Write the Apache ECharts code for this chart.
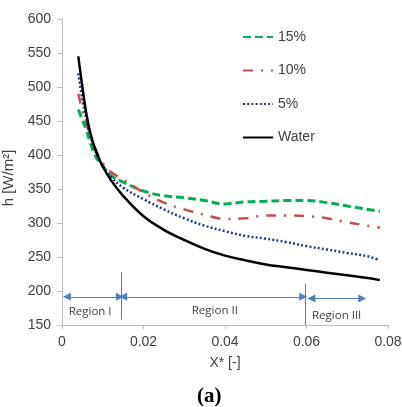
<!DOCTYPE html>
<html><head><meta charset="utf-8">
<script src="https://cdn.jsdelivr.net/npm/echarts@6/dist/echarts.min.js"></script>
<style>html,body{margin:0;padding:0;background:#fff}#c{width:402px;height:407px}</style>
</head><body><div id="c"></div>
<script>
var xValues = [0.004,0.005,0.006,0.007,0.008,0.009,0.01,0.012,0.015,0.02,0.025,0.03,0.035,0.04,0.045,0.05,0.055,0.06,0.065,0.07,0.075,0.078];
var h15 = [467,452,436,417,401,391,384,370,360,347,340,337,333,328,331,332,333,333,330,325,320,317];
var h10 = [490,465,445,428,412,398,388,375,364,345,330,320,312,306,307,311,311,310,307,301,296,293];
var h5  = [520,482,452,427,409,395,384,368,352,335,320,307,296,288,281,277,272,266,261,256,251,245];
var hWater = [545,500,460,431,411,396,383,363,340,310,290,275,262,252,245,239,235,231,227,223,219,216];
var seriesNames = ['15%','10%','5%','Water'];
var yTicks = {min:150,max:600,step:50};
var xTicks = {min:0,max:0.08,step:0.02};
var regionLabels = ['Region I','Region II','Region III'];
var regionBounds = [0.0145, 0.0597];

function pairs(ys){ return xValues.map(function(x,i){ return [x, ys[i]]; }); }

var chart = echarts.init(document.getElementById('c'), null, {renderer:'canvas'});
var annColor = '#4f81bd';
var txt = '#404040';
var option = {
  animation:false,
  title:{text:'(a)', left:192, top:381, textStyle:{fontFamily:'Liberation Serif', fontWeight:'bold', fontSize:21, color:'#000'}},
  grid:{left:62, right:14, top:19, bottom:82, containLabel:false, outerBoundsMode:'none'},
  legend:{
    data:seriesNames,
    orient:'vertical', left:242, top:30, padding:0, itemWidth:30, itemHeight:14, itemGap:19.5,
    itemStyle:{opacity:0, borderWidth:0},
    textStyle:{fontFamily:'Liberation Sans', fontSize:14, color:txt}
  },
  xAxis:{
    type:'value', min:xTicks.min, max:xTicks.max, interval:xTicks.step,
    name:'X* [-]', nameLocation:'middle', nameGap:31,
    nameTextStyle:{fontFamily:'Liberation Sans', fontSize:14, color:txt},
    axisLine:{lineStyle:{color:'#bfbfbf'}}, axisTick:{show:true, length:4, lineStyle:{color:'#bfbfbf'}},
    splitLine:{show:false},
    axisLabel:{fontFamily:'Liberation Sans', fontSize:14, color:txt, margin:10,
      formatter:function(v){ return v===0?'0':v.toFixed(2); }}
  },
  yAxis:{
    type:'value', min:yTicks.min, max:yTicks.max, interval:yTicks.step,
    name:'h [W/m²]', nameLocation:'middle', nameGap:37,
    nameTextStyle:{fontFamily:'Liberation Sans', fontSize:15, color:txt, padding:[0,12,0,0]},
    axisLine:{show:true, lineStyle:{color:'#bfbfbf'}}, axisTick:{show:true, length:5, lineStyle:{color:'#bfbfbf'}},
    splitLine:{show:false},
    axisLabel:{fontFamily:'Liberation Sans', fontSize:14, color:txt, margin:11}
  },
  series:[
    {name:'15%', type:'line', smooth:0.4, showSymbol:false, symbol:'none', data:pairs(h15), z:3,
      lineStyle:{color:'#00b050', width:3, type:[8,4]}, itemStyle:{color:'#00b050'}},
    {name:'10%', type:'line', smooth:0.4, showSymbol:false, symbol:'none', data:pairs(h10), z:3,
      lineStyle:{color:'#c0504d', width:2.5, type:[10,8,2,8]}, itemStyle:{color:'#c0504d'}},
    {name:'5%', type:'line', smooth:0.4, showSymbol:false, symbol:'none', data:pairs(h5), z:3,
      lineStyle:{color:'#1f3c88', width:2.5, type:[2,2.2]}, itemStyle:{color:'#1f3c88'}},
    {name:'Water', type:'line', smooth:0.4, showSymbol:false, symbol:'none', data:pairs(hWater), z:4,
      lineStyle:{color:'#000', width:2.5, type:'solid'}, itemStyle:{color:'#000'}},
    {name:'regions', type:'line', data:[], silent:true,
      markLine:{
        silent:true, animation:false,
        lineStyle:{color:annColor, width:1, type:'solid'},
        label:{show:false},
        symbolSize:[8,8],
        data:[
          [{coord:[regionBounds[0],228], symbol:'none'},{coord:[regionBounds[0],158], symbol:'none'}],
          [{coord:[regionBounds[1],211], symbol:'none'},{coord:[regionBounds[1],150], symbol:'none'}],
          [{coord:[0.0012,191.5], symbol:'triangle'},{coord:[0.0142,191.5], symbol:'triangle'}],
          [{coord:[0.015,191.5], symbol:'triangle'},{coord:[0.0592,191.5], symbol:'triangle'}],
          [{coord:[0.0612,189], symbol:'triangle'},{coord:[0.0737,189], symbol:'triangle'}]
        ]
      },
      markPoint:{
        silent:true, symbol:'circle', symbolSize:0,
        label:{show:true, position:'inside', fontFamily:'Open Sans', fontSize:11.5, color:'#404040',
          formatter:function(p){ return p.name; }},
        data:[
          {name:regionLabels[0], coord:[0.0069,169.5]},
          {name:regionLabels[1], coord:[0.0375,170.5]},
          {name:regionLabels[2], coord:[0.0674,164]}
        ]
      }
    }
  ]
};
chart.setOption(option);
</script></body></html>
